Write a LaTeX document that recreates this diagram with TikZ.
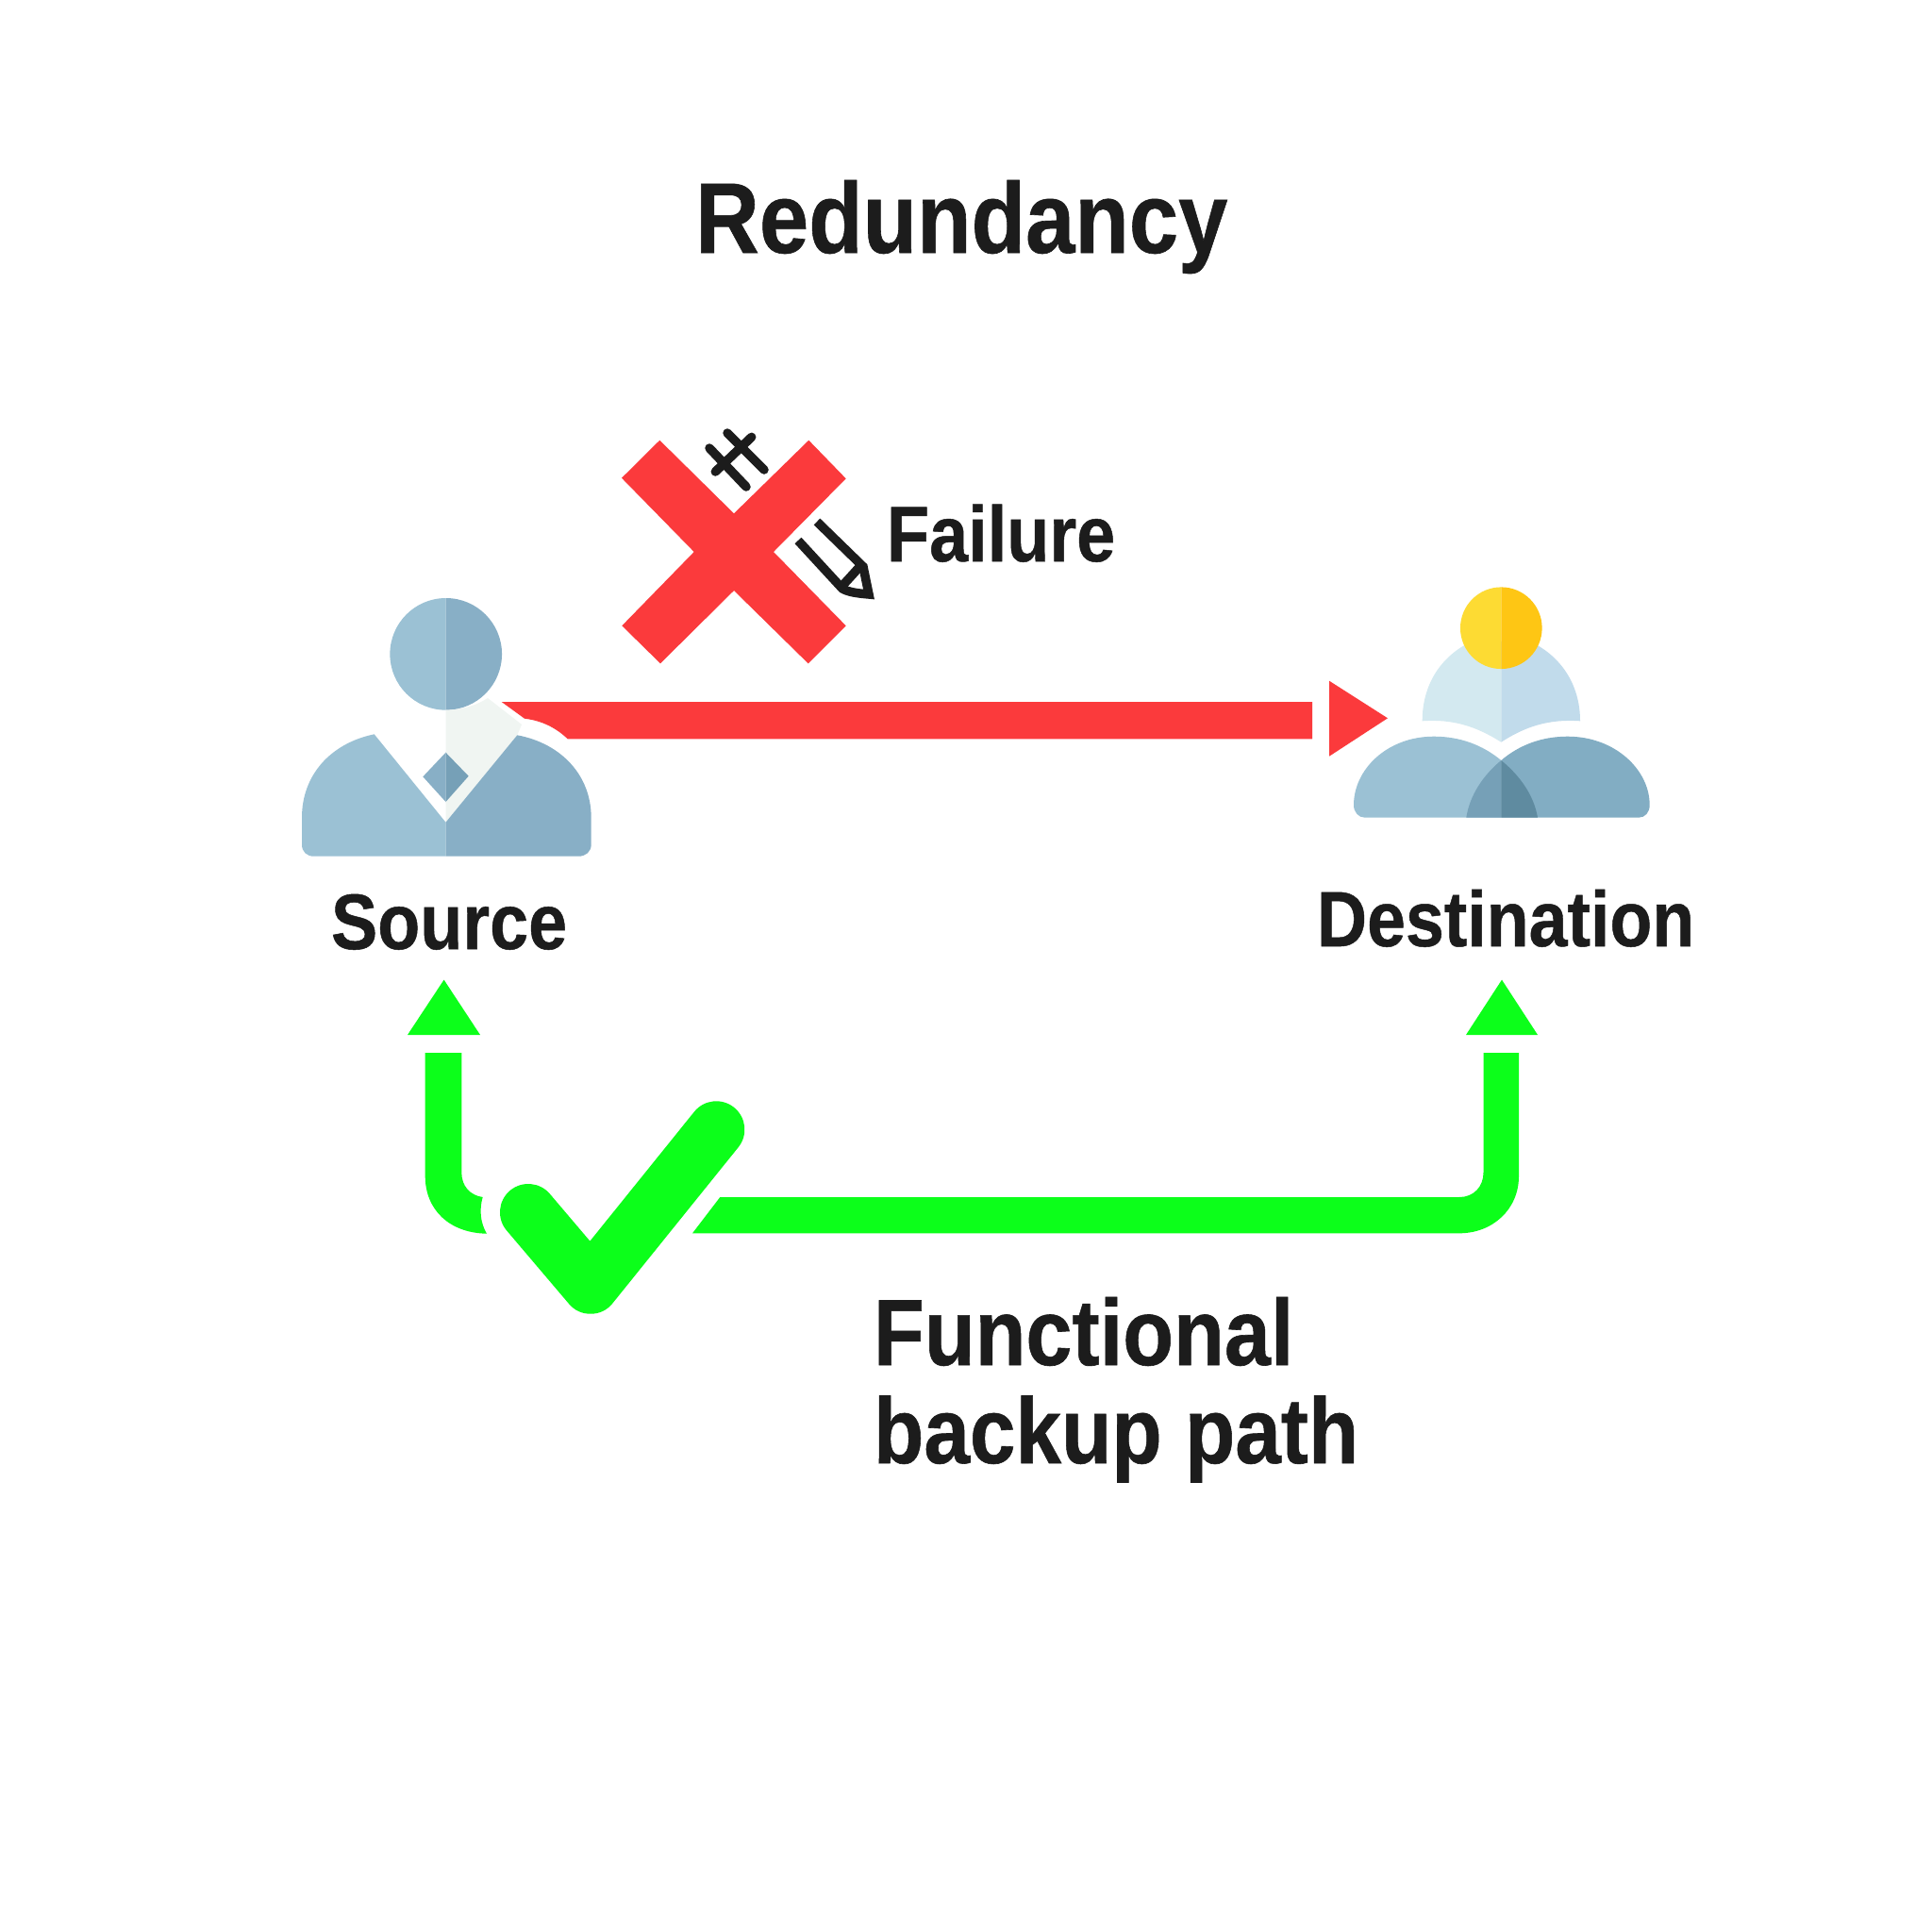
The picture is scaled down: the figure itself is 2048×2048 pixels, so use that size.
\documentclass[tikz,border=0pt]{standalone}
\usepackage{fontspec}
\usepackage{graphicx}
\setmainfont{Liberation Sans}[BoldFeatures={FakeBold=0.6}]
\definecolor{ink}{HTML}{1C1C1C}
\definecolor{redx}{HTML}{FB3A3C}
\definecolor{greenx}{HTML}{0CFF1A}
\definecolor{blueL}{HTML}{9BC1D4}
\definecolor{blueR}{HTML}{88AFC6}
\definecolor{blueD}{HTML}{76A0B7}
\definecolor{blueE}{HTML}{82ADC3}
\definecolor{blueF}{HTML}{5F8BA0}
\definecolor{collar}{HTML}{F0F5F2}
\definecolor{paleL}{HTML}{D3E9F0}
\definecolor{paleR}{HTML}{C1DBEB}
\definecolor{sunL}{HTML}{FDDB33}
\definecolor{sunR}{HTML}{FEC614}
\newcommand{\fitlabel}[2]{\scalebox{1}[1.13]{\resizebox{#1}{!}{#2}}}
\tikzset{
  x=0.01cm,y=-0.01cm,
  label text/.style={anchor=base west,inner sep=0pt,outer sep=0pt,text=ink,font=\bfseries},
  glyph line/.style={draw=ink,line width=0.095cm,line cap=round,line join=round},
  pencil line/.style={draw=ink,line width=0.095cm,line cap=butt,line join=miter},
}
\begin{document}
\begin{tikzpicture}
\useasboundingbox (0,0) rectangle (2048,2048);
\fill[white] (0,0) rectangle (2048,2048);

% Source person
\fill[blueL] (472.7,634) arc[start angle=90,end angle=270,radius=0.593cm] -- cycle;
\fill[blueR] (472.7,634) arc[start angle=90,end angle=-90,radius=0.593cm] -- cycle;
\fill[collar] (472.5,752.7) .. controls (490,752) and (505,748) .. (517,740) -- (553,768) -- (548.3,779.3) -- (472.5,871.7) -- cycle;
\fill[blueL] (396.7,778.3) .. controls (350,788) and (320,822) .. (320,866.7) -- (320,895) .. controls (320,903) and (325,907.7) .. (333,907.7) -- (472.5,907.7) -- (472.5,871.7) -- cycle;
\fill[blueR] (548.3,779.3) .. controls (595,788) and (626.7,822) .. (626.7,866.7) -- (626.7,895) .. controls (626.7,903) and (621,907.7) .. (613,907.7) -- (472.5,907.7) -- (472.5,871.7) -- cycle;
\fill[blueR] (472.5,797.7) -- (448.3,823.3) -- (472.5,850) -- cycle;
\fill[blueD] (472.5,797.7) -- (496.7,822.7) -- (472.5,850) -- cycle;

% Destination person
\fill[paleL] (1507.7,764.3) .. controls (1507.7,725) and (1528,695) .. (1560,680) -- (1591.3,680) -- (1591.3,786.7) .. controls (1565,770) and (1540,762) .. (1507.7,764.3) -- cycle;
\fill[paleR] (1675,764.3) .. controls (1675,725) and (1654,695) .. (1622,680) -- (1591.3,680) -- (1591.3,786.7) .. controls (1617,770) and (1642,762) .. (1675,764.3) -- cycle;
\fill[sunL] (1591.3,622.4) arc[start angle=90,end angle=270,radius=0.433cm] -- cycle;
\fill[sunR] (1591.3,622.4) arc[start angle=90,end angle=-90,radius=0.433cm] -- cycle;
\fill[blueL] (1435,853.3) .. controls (1435,816) and (1470,780.7) .. (1520,780.7) .. controls (1548,780.7) and (1572,790) .. (1591.3,806) -- (1591.3,866.7) -- (1447,866.7) .. controls (1440,866.7) and (1435,861) .. (1435,853.3) -- cycle;
\fill[blueE] (1748.7,853.3) .. controls (1748.7,816) and (1712,780.7) .. (1661.7,780.7) .. controls (1634,780.7) and (1610,790) .. (1591.3,806) -- (1591.3,866.7) -- (1737,866.7) .. controls (1744,866.7) and (1748.7,861) .. (1748.7,853.3) -- cycle;
\fill[blueD] (1591.3,806) .. controls (1572,822) and (1558,843) .. (1554.3,866.7) -- (1591.3,866.7) -- cycle;
\fill[blueF] (1591.3,806) .. controls (1611,822) and (1626,843) .. (1630,866.7) -- (1591.3,866.7) -- cycle;

% Failed red link
\coordinate (redstart) at (531.7,744);
\coordinate (redend) at (1391,744);
\coordinate (redtip) at (1471,761.3);
\fill[redx] (redstart) -- (556,761.7) .. controls (575,764) and (590,772) .. (601.7,783.3) -- (1391,783.3) -- (redend) -- cycle;
\fill[redx] (1409,721.7) -- (redtip) -- (1409,801.7) -- cycle;

% Red cross
\fill[redx] (699.3,466.7) -- (778,544.3) -- (857.3,466.7) -- (896.7,507.3) -- (820,585) -- (896.7,663.3) -- (856.7,703.3) -- (778,626) -- (700,703.3) -- (659.3,663.3) -- (735.7,585) -- (659,506.7) -- cycle;

% Small glyphs
\draw[glyph line] (771,459) -- (810,498);
\draw[glyph line] (752,475) -- (791,516);
\draw[glyph line] (796.7,463.3) -- (758.3,500);
\draw[pencil line] (866,553) -- (915,600.7) -- (921,630) .. controls (910,629) and (900,628) .. (893,624) -- (846,573);
\draw[pencil line] (912,600) -- (892,622);

% Green backup link
\coordinate (gleftend) at (450.7,1116);
\coordinate (grightend) at (1610,1116);
\fill[greenx] (gleftend) -- (489.3,1116) -- (489.3,1243) .. controls (489.3,1257) and (498,1267) .. (511.7,1269) .. controls (508,1282) and (509,1296) .. (516,1307.7) .. controls (476,1307) and (450.7,1282) .. (450.7,1246.7) -- cycle;
\fill[greenx] (734,1307.3) -- (763.3,1269) -- (1547,1269) .. controls (1562,1269) and (1572.5,1258) .. (1572.5,1243) -- (1572.5,1116) -- (grightend) -- (1610,1247) .. controls (1610,1282) and (1582,1307.3) .. (1547,1307.3) -- cycle;
\fill[greenx] (470.6,1038.6) -- (509,1097) -- (432,1097) -- cycle;
\fill[greenx] (1592,1038.6) -- (1630,1097) -- (1554,1097) -- cycle;
\draw[greenx,line width=0.6cm,line cap=round,line join=round] (560,1285) -- (626,1362.7) -- (759.3,1197.3);

% Labels
\node[label text] (title) at (737,268) {\fitlabel{5.64cm}{Redundancy}};
\node[label text] (failure) at (940,595) {\fitlabel{2.42cm}{Failure}};
\node[label text] (source) at (351,1006) {\fitlabel{2.50cm}{Source}};
\node[label text] (dest) at (1396,1003) {\fitlabel{4.00cm}{Destination}};
\node[label text] (func) at (926,1447) {\fitlabel{4.45cm}{Functional}};
\node[label text] (backup) at (926,1551) {\fitlabel{5.14cm}{backup path}};
\end{tikzpicture}
\end{document}
